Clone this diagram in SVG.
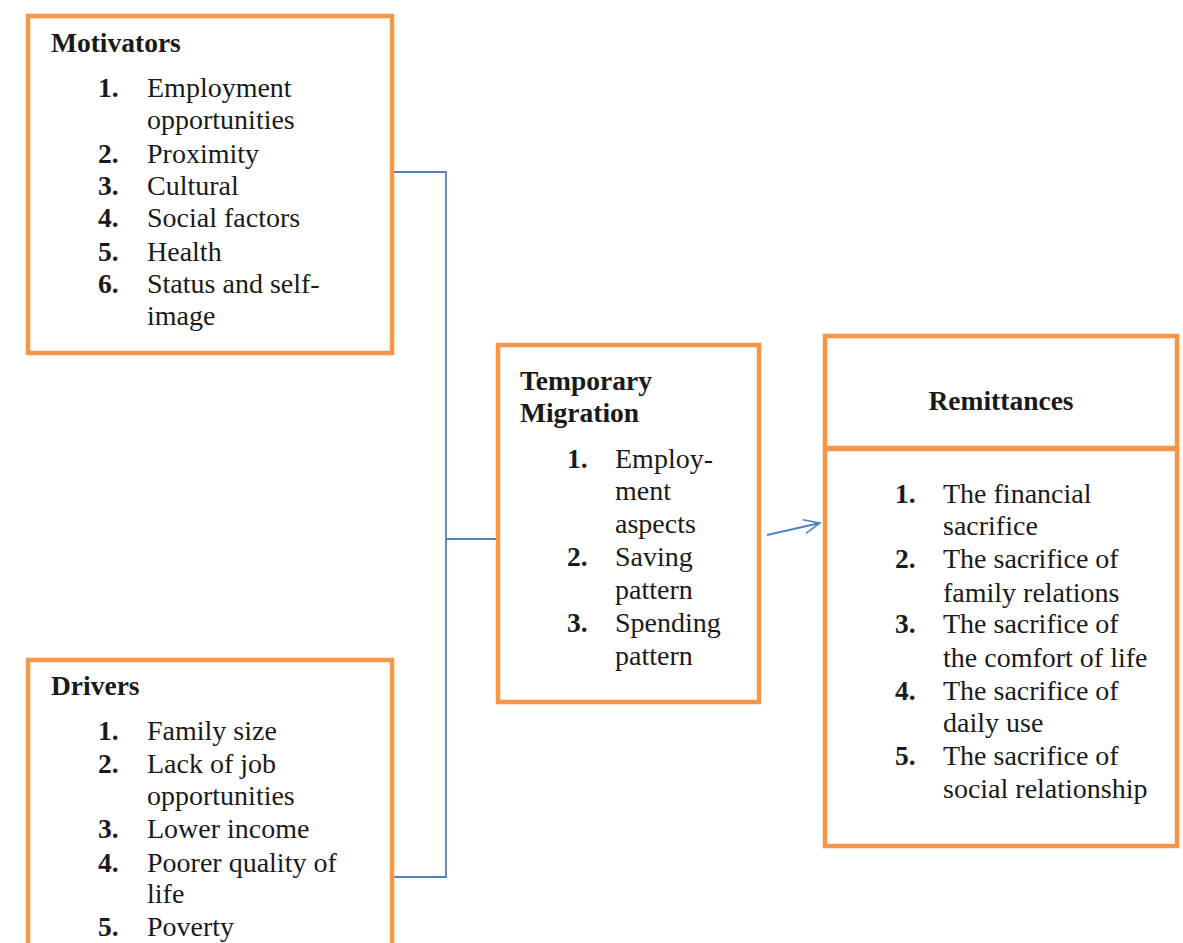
<svg xmlns="http://www.w3.org/2000/svg" width="1183" height="943" viewBox="0 0 1183 943">
<defs>
<style>
.box{fill:#fff;stroke:#F79646;stroke-width:4.5}
.t{font-family:"Liberation Serif","Times New Roman",serif;font-size:28px;fill:#1a1a1a}
.b{font-weight:bold;font-size:27.5px}
.conn{fill:none;stroke:#4F81BD;stroke-width:1.8}
</style>
<marker id="open" markerWidth="20" markerHeight="16" refX="18" refY="8" orient="auto" markerUnits="userSpaceOnUse">
<path d="M2,1 L18,8 L2,15" fill="none" stroke="#4F81BD" stroke-width="1.6"/>
</marker>
</defs>
<rect width="1183" height="943" fill="#fff"/>
<g id="connectors">
<polyline class="conn" points="392,172 446,172 446,877 392,877"/>
<line class="conn" x1="446" y1="539" x2="497" y2="539"/>
<line class="conn" x1="767" y1="535" x2="820" y2="523" marker-end="url(#open)"/>
</g>
<g id="motivators">
<rect class="box" x="28" y="16" width="364" height="337"/>
<text class="t b" x="51" y="52">Motivators</text>
<text class="t b" x="98" y="97">1.</text><text class="t" x="147" y="97">Employment</text>
<text class="t" x="147" y="129">opportunities</text>
<text class="t b" x="98" y="163">2.</text><text class="t" x="147" y="163">Proximity</text>
<text class="t b" x="98" y="195">3.</text><text class="t" x="147" y="195">Cultural</text>
<text class="t b" x="98" y="227">4.</text><text class="t" x="147" y="227">Social factors</text>
<text class="t b" x="98" y="261">5.</text><text class="t" x="147" y="261">Health</text>
<text class="t b" x="98" y="293">6.</text><text class="t" x="147" y="293">Status and self-</text>
<text class="t" x="147" y="325">image</text>
</g>
<g id="drivers">
<rect class="box" x="28" y="660" width="364" height="320"/>
<text class="t b" x="51" y="695">Drivers</text>
<text class="t b" x="98" y="740">1.</text><text class="t" x="147" y="740">Family size</text>
<text class="t b" x="98" y="773">2.</text><text class="t" x="147" y="773">Lack of job</text>
<text class="t" x="147" y="805">opportunities</text>
<text class="t b" x="98" y="838">3.</text><text class="t" x="147" y="838">Lower income</text>
<text class="t b" x="98" y="872">4.</text><text class="t" x="147" y="872">Poorer quality of</text>
<text class="t" x="147" y="903">life</text>
<text class="t b" x="98" y="936">5.</text><text class="t" x="147" y="936">Poverty</text>
</g>
<g id="temporary-migration">
<rect class="box" x="498" y="345" width="261" height="357"/>
<text class="t b" x="520" y="390">Temporary</text>
<text class="t b" x="520" y="422">Migration</text>
<text class="t b" x="567" y="468">1.</text><text class="t" x="615" y="468">Employ-</text>
<text class="t" x="615" y="500">ment</text>
<text class="t" x="615" y="533">aspects</text>
<text class="t b" x="567" y="566">2.</text><text class="t" x="615" y="566">Saving</text>
<text class="t" x="615" y="599">pattern</text>
<text class="t b" x="567" y="632">3.</text><text class="t" x="615" y="632">Spending</text>
<text class="t" x="615" y="665">pattern</text>
</g>
<g id="remittances">
<rect class="box" x="825" y="336" width="352" height="112"/>
<rect class="box" x="825" y="449" width="352" height="397"/>
<text class="t b" x="1001" y="410" text-anchor="middle">Remittances</text>
<text class="t b" x="895" y="503">1.</text><text class="t" x="943" y="503">The financial</text>
<text class="t" x="943" y="535">sacrifice</text>
<text class="t b" x="895" y="568">2.</text><text class="t" x="943" y="568">The sacrifice of</text>
<text class="t" x="943" y="602">family relations</text>
<text class="t b" x="895" y="633">3.</text><text class="t" x="943" y="633">The sacrifice of</text>
<text class="t" x="943" y="667">the comfort of life</text>
<text class="t b" x="895" y="700">4.</text><text class="t" x="943" y="700">The sacrifice of</text>
<text class="t" x="943" y="732">daily use</text>
<text class="t b" x="895" y="765">5.</text><text class="t" x="943" y="765">The sacrifice of</text>
<text class="t" x="943" y="798">social relationship</text>
</g>
</svg>
